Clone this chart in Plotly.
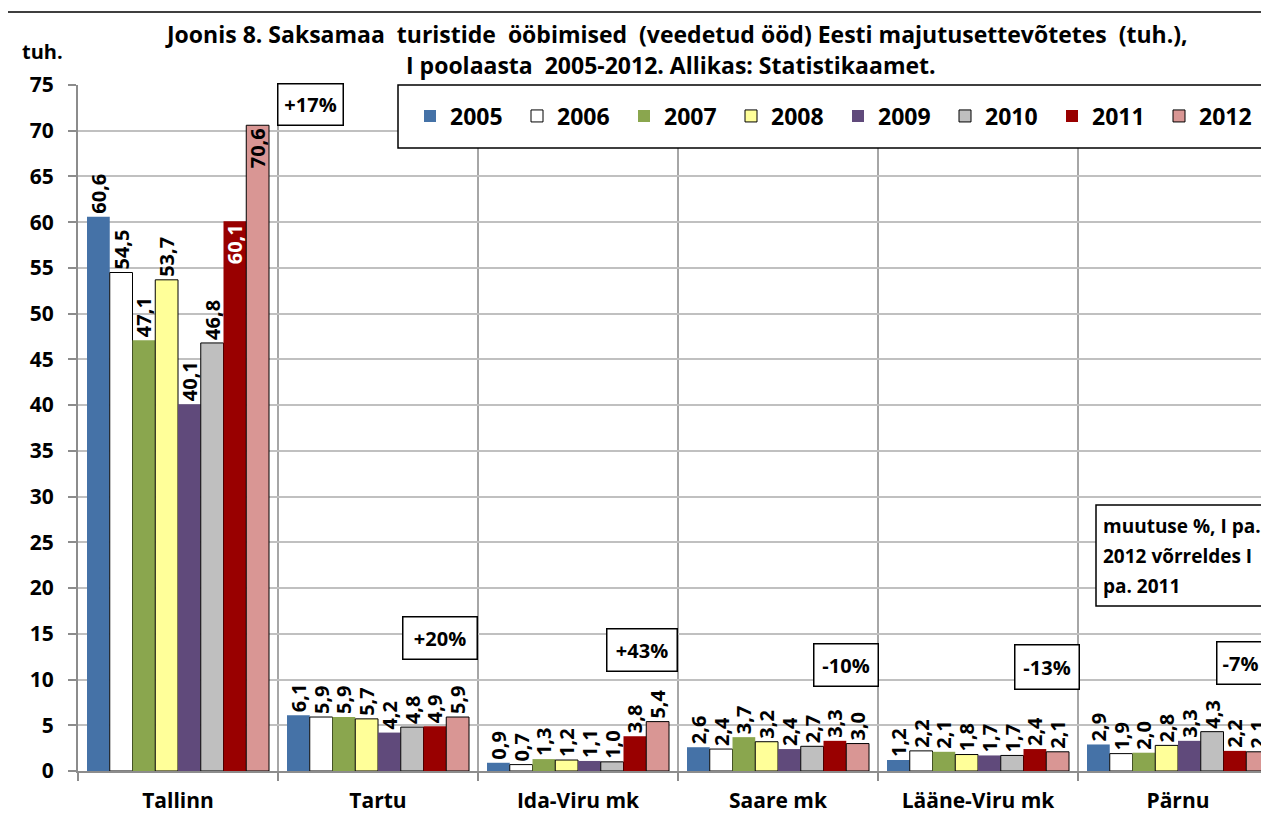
import plotly.graph_objects as go

regions = ["Tallinn", "Tartu", "Ida-Viru mk", "Saare mk", "Lääne-Viru mk", "Pärnu"]
years = ["2005", "2006", "2007", "2008", "2009", "2010", "2011", "2012"]

v2005 = [60.6, 6.1, 0.9, 2.6, 1.2, 2.9]
v2006 = [54.5, 5.9, 0.7, 2.4, 2.2, 1.9]
v2007 = [47.1, 5.9, 1.3, 3.7, 2.1, 2.0]
v2008 = [53.7, 5.7, 1.2, 3.2, 1.8, 2.8]
v2009 = [40.1, 4.2, 1.1, 2.4, 1.7, 3.3]
v2010 = [46.8, 4.8, 1.0, 2.7, 1.7, 4.3]
v2011 = [60.1, 4.9, 3.8, 3.3, 2.4, 2.2]
v2012 = [70.6, 5.9, 5.4, 3.0, 2.1, 2.1]
series = [v2005, v2006, v2007, v2008, v2009, v2010, v2011, v2012]

pct_change = ["+17%", "+20%", "+43%", "-10%", "-13%", "-7%"]

colors = ["#4572A7", "#FFFFFF", "#8AA64E", "#FFFF99", "#604A7B", "#BFBFBF", "#990000", "#D99694"]
outlined = [False, True, False, True, False, True, False, True]

FONT = "Open Sans"

# plot area in screenshot pixels; the page body adds an 8px offset
OFF = 8
X0, X1, YT, YB = 78, 1269, 85, 771
W, H = 1269 - OFF, 835 - OFF


def px(x):
    return (x - X0) / (X1 - X0)


def py(y):
    return (YB - y) / (YB - YT)


fig = go.Figure()

for i, (yr, vals) in enumerate(zip(years, series)):
    pos = ["outside"] * len(vals)
    tcol = ["black"] * len(vals)
    if yr == "2011":
        pos[0] = "inside"
        tcol[0] = "white"
    if yr == "2012":
        pos[0] = "inside"
    fig.add_trace(go.Bar(
        x=regions, y=vals, name=yr,
        marker=dict(color=colors[i],
                    line=dict(color="black" if outlined[i] else colors[i], width=1 if outlined[i] else 0)),
        text=["{:.1f}".format(v).replace(".", ",") for v in vals],
        textposition=pos, textangle=-90, insidetextanchor="end",
        textfont=dict(family=FONT, size=20, color=tcol, weight="bold"),
        constraintext="none", hoverinfo="skip",
    ))

fig.update_layout(
    width=W, height=H,
    margin=dict(l=X0 - OFF, r=0, t=YT - OFF, b=H - (YB - OFF), autoexpand=False),
    paper_bgcolor="white", plot_bgcolor="white",
    barmode="group", bargap=0.09, bargroupgap=0,
    font=dict(family=FONT, color="black"),
    showlegend=True,
    legend=dict(orientation="h", x=px(410), xanchor="left", y=py(116), yanchor="middle",
                font=dict(family=FONT, size=23, weight="bold"), entrywidth=62, itemwidth=30,
                bgcolor="rgba(0,0,0,0)", traceorder="normal"),
)

fig.update_yaxes(range=[0, 75], dtick=5, showgrid=True, gridcolor="#C0C0C0", gridwidth=1.5,
                 showline=True, linecolor="#8C8C8C", linewidth=2, ticks="outside", ticklen=8,
                 tickcolor="#8C8C8C", tickwidth=1.5, ticklabelstandoff=10,
                 tickfont=dict(family=FONT, size=21, weight="bold"), zeroline=False)
fig.update_xaxes(range=[-0.5, -0.5 + (X1 - X0) / 200.0], tickson="boundaries", showgrid=True,
                 gridcolor="#A6A6A6", gridwidth=1.5, showline=True, linecolor="#8C8C8C", linewidth=2,
                 ticks="outside", ticklen=8, tickcolor="#8C8C8C", tickwidth=1.5, ticklabelstandoff=10,
                 tickfont=dict(family=FONT, size=21, weight="bold"))

shapes = [
    # outer chart border
    dict(type="rect", xref="paper", yref="paper", x0=px(7), x1=px(1300), y0=py(870), y1=py(12),
         line=dict(color="black", width=1.5), layer="above"),
    # legend box
    dict(type="rect", xref="paper", yref="paper", x0=px(398), x1=px(1300), y0=py(148), y1=py(85),
         line=dict(color="black", width=1.5), fillcolor="white", layer="above"),
    # note box
    dict(type="rect", xref="paper", yref="paper", x0=px(1096), x1=px(1300), y0=py(606), y1=py(505),
         line=dict(color="black", width=1.5), fillcolor="white", layer="above"),
]
fig.update_layout(shapes=shapes)

ann = [
    dict(text="Joonis 8. Saksamaa  turistide  ööbimised  (veedetud ööd) Eesti majutusettevõtetes  (tuh.),",
         x=px(676), y=py(34), size=23),
    dict(text="I poolaasta  2005-2012. Allikas: Statistikaamet.", x=px(671), y=py(65), size=23),
    dict(text="tuh.", x=px(42), y=py(52), size=20),
]
for a in ann:
    fig.add_annotation(text=a["text"], x=a["x"], y=a["y"], xref="paper", yref="paper",
                       xanchor="center", yanchor="middle", showarrow=False,
                       font=dict(family=FONT, size=a["size"], weight="bold"))

# change boxes: centre x, centre y, width, height (px)
boxes = [(310, 105, 64, 40), (439.5, 637.5, 73, 41), (641.5, 649.5, 69, 41),
         (845.5, 664.5, 63, 41), (1046.5, 666.5, 63, 43), (1240, 662.5, 46, 41)]
for label, (cx, cy, w, h) in zip(pct_change, boxes):
    fig.add_annotation(text=label, xref="paper", yref="paper", x=px(cx), y=py(cy),
                       xanchor="center", yanchor="middle", showarrow=False, width=w, height=h,
                       bordercolor="black", borderwidth=1.5, borderpad=0, bgcolor="white",
                       font=dict(family=FONT, size=20, weight="bold"))

note_lines = ["muutuse %, I pa.", "2012 võrreldes I", "pa. 2011"]
for k, line in enumerate(note_lines):
    fig.add_annotation(text=line, xref="paper", yref="paper", x=px(1101), y=py(526 + 30 * k),
                       xanchor="left", yanchor="middle", showarrow=False,
                       font=dict(family=FONT, size=19, weight="bold"))

fig.write_html("out.html")
